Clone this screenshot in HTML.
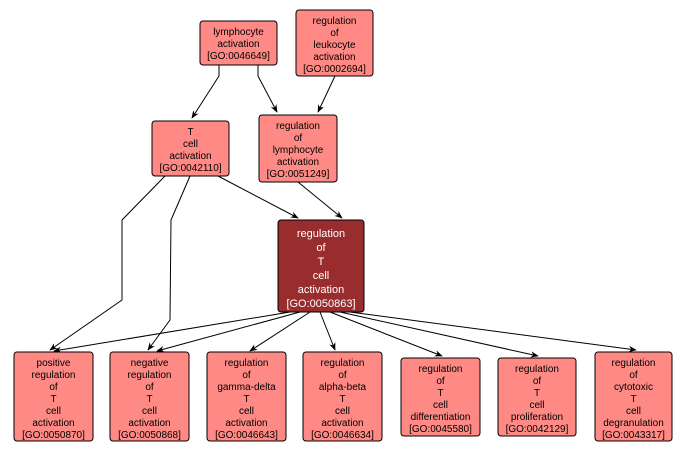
<!DOCTYPE html>
<html><head><meta charset="utf-8"><style>
body{margin:0;background:#fff;}
svg{display:block;font-family:"Liberation Sans",sans-serif;font-size:10px;}
.n{fill:#ff8a85;stroke:#000;stroke-width:1;}
.d{fill:#992c2c;stroke:#000;stroke-width:1;}
.e{fill:none;stroke:#000;stroke-width:1;}
text{text-anchor:middle;fill:#000}
.w{fill:#fff;font-size:11px}
</style></head><body>
<svg width="688" height="453" viewBox="0 0 688 453">
<defs><marker id="a" viewBox="0 0 10 10" refX="9" refY="5" markerWidth="8" markerHeight="8" orient="auto"><path d="M0,1 L10,5 L0,9 L3,5z" fill="#000"/></marker></defs>
<g class="e">
<path d="M219,65 L219,76 L192,118" marker-end="url(#a)"/>
<path d="M258,65 L258,76 L277,112" marker-end="url(#a)"/>
<path d="M335,76 L318,112" marker-end="url(#a)"/>
<path d="M218,176 L298,218" marker-end="url(#a)"/>
<path d="M298,182 L342,218" marker-end="url(#a)"/>
<path d="M165,176 L122,220 L122,300 L50,350" marker-end="url(#a)"/>
<path d="M190,176 L171,220 L170,320 L148,350" marker-end="url(#a)"/>
<path d="M290,312 L54,351" marker-end="url(#a)"/>
<path d="M300,312 L157,351" marker-end="url(#a)"/>
<path d="M310,312 L250,351" marker-end="url(#a)"/>
<path d="M320,312 L335,350" marker-end="url(#a)"/>
<path d="M330,312 L442,356" marker-end="url(#a)"/>
<path d="M340,312 L538,356" marker-end="url(#a)"/>
<path d="M350,312 L636,350" marker-end="url(#a)"/>
</g>
<rect class="n" x="200" y="21" width="77" height="44" rx="3"/>
<text x="238.5" y="35">lymphocyte</text><text x="238.5" y="47">activation</text><text x="238.5" y="59">[GO:0046649]</text>
<rect class="n" x="296" y="10" width="77" height="66" rx="3"/>
<text x="334.5" y="24">regulation</text><text x="334.5" y="36">of</text><text x="334.5" y="48">leukocyte</text><text x="334.5" y="60">activation</text><text x="334.5" y="72">[GO:0002694]</text>
<rect class="n" x="152" y="121" width="77" height="55" rx="3"/>
<text x="190.5" y="135">T</text><text x="190.5" y="147">cell</text><text x="190.5" y="159">activation</text><text x="190.5" y="171">[GO:0042110]</text>
<rect class="n" x="259" y="115" width="78" height="67" rx="3"/>
<text x="298" y="129">regulation</text><text x="298" y="141">of</text><text x="298" y="153">lymphocyte</text><text x="298" y="165">activation</text><text x="298" y="177">[GO:0051249]</text>
<rect class="d" x="278" y="220" width="86" height="92" rx="3"/>
<text class="w" x="321" y="237">regulation</text><text class="w" x="321" y="251">of</text><text class="w" x="321" y="265">T</text><text class="w" x="321" y="279">cell</text><text class="w" x="321" y="293">activation</text><text class="w" x="321" y="307">[GO:0050863]</text>
<g>
<rect class="n" x="14" y="352" width="79" height="89" rx="3"/>
<text x="53.5" y="366">positive</text><text x="53.5" y="378">regulation</text><text x="53.5" y="390">of</text><text x="53.5" y="402">T</text><text x="53.5" y="414">cell</text><text x="53.5" y="426">activation</text><text x="53.5" y="438">[GO:0050870]</text>
<rect class="n" x="110" y="352" width="79" height="89" rx="3"/>
<text x="149.5" y="366">negative</text><text x="149.5" y="378">regulation</text><text x="149.5" y="390">of</text><text x="149.5" y="402">T</text><text x="149.5" y="414">cell</text><text x="149.5" y="426">activation</text><text x="149.5" y="438">[GO:0050868]</text>
<rect class="n" x="207" y="352" width="79" height="89" rx="3"/>
<text x="246.5" y="366">regulation</text><text x="246.5" y="378">of</text><text x="246.5" y="390">gamma-delta</text><text x="246.5" y="402">T</text><text x="246.5" y="414">cell</text><text x="246.5" y="426">activation</text><text x="246.5" y="438">[GO:0046643]</text>
<rect class="n" x="303" y="352" width="79" height="89" rx="3"/>
<text x="342.5" y="366">regulation</text><text x="342.5" y="378">of</text><text x="342.5" y="390">alpha-beta</text><text x="342.5" y="402">T</text><text x="342.5" y="414">cell</text><text x="342.5" y="426">activation</text><text x="342.5" y="438">[GO:0046634]</text>
<rect class="n" x="401" y="358" width="79" height="78" rx="3"/>
<text x="440.5" y="372">regulation</text><text x="440.5" y="384">of</text><text x="440.5" y="396">T</text><text x="440.5" y="408">cell</text><text x="440.5" y="420">differentiation</text><text x="440.5" y="432">[GO:0045580]</text>
<rect class="n" x="498" y="358" width="78" height="78" rx="3"/>
<text x="537" y="372">regulation</text><text x="537" y="384">of</text><text x="537" y="396">T</text><text x="537" y="408">cell</text><text x="537" y="420">proliferation</text><text x="537" y="432">[GO:0042129]</text>
<rect class="n" x="595" y="352" width="77" height="89" rx="3"/>
<text x="633.5" y="366">regulation</text><text x="633.5" y="378">of</text><text x="633.5" y="390">cytotoxic</text><text x="633.5" y="402">T</text><text x="633.5" y="414">cell</text><text x="633.5" y="426">degranulation</text><text x="633.5" y="438">[GO:0043317]</text>
</g>
</svg>
</body></html>
